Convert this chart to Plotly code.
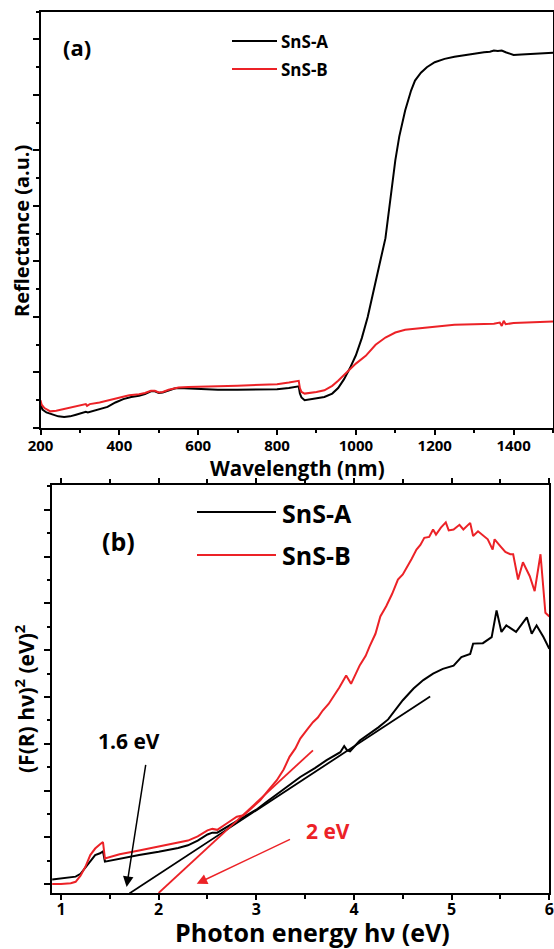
import plotly.graph_objects as go

# ---------------- Panel (a): reflectance ----------------
wl_a = [200, 205, 215, 230, 245, 260, 275, 290, 305, 315, 320, 330, 350, 370, 390, 410, 430, 450, 465,
        480, 490, 500, 510, 525, 540, 550, 575, 600, 650, 700, 750, 800, 830, 855, 858, 862, 870, 880,
        900, 920, 940, 955, 970, 985, 1000, 1015, 1030, 1045, 1060, 1075, 1090, 1100, 1110, 1125, 1140,
        1150, 1165, 1180, 1200, 1225, 1250, 1275, 1300, 1325, 1340, 1350, 1360, 1370, 1380, 1390, 1400,
        1420, 1440, 1460, 1480, 1500]
refl_a = [0.43, 0.33, 0.28, 0.24, 0.21, 0.20, 0.21, 0.24, 0.27, 0.29, 0.28, 0.30, 0.33, 0.38, 0.46, 0.52,
          0.56, 0.58, 0.61, 0.66, 0.66, 0.63, 0.64, 0.68, 0.71, 0.72, 0.71, 0.70, 0.69, 0.69, 0.69, 0.70,
          0.72, 0.75, 0.62, 0.55, 0.50, 0.51, 0.53, 0.56, 0.62, 0.72, 0.88, 1.08, 1.31, 1.62, 2.00, 2.45,
          2.95, 3.42, 4.30, 4.82, 5.25, 5.72, 6.08, 6.26, 6.40, 6.50, 6.59, 6.65, 6.69, 6.72, 6.75, 6.77,
          6.78, 6.80, 6.79, 6.80, 6.77, 6.75, 6.72, 6.73, 6.74, 6.74, 6.75, 6.76]

wl_b = [200, 203, 210, 225, 240, 260, 280, 300, 315, 318, 325, 350, 375, 400, 425, 450, 465, 480, 490,
        500, 510, 525, 540, 550, 575, 600, 650, 700, 750, 800, 830, 855, 858, 862, 870, 885, 900, 920,
        940, 955, 970, 985, 1000, 1025, 1050, 1075, 1100, 1125, 1150, 1200, 1250, 1300, 1350, 1365,
        1370, 1375, 1380, 1400, 1450, 1500]
refl_b = [0.50, 0.42, 0.36, 0.30, 0.31, 0.34, 0.37, 0.40, 0.43, 0.40, 0.43, 0.46, 0.50, 0.55, 0.59, 0.61,
          0.63, 0.67, 0.67, 0.64, 0.65, 0.69, 0.72, 0.73, 0.74, 0.74, 0.75, 0.76, 0.77, 0.79, 0.82, 0.85,
          0.72, 0.65, 0.62, 0.63, 0.65, 0.68, 0.76, 0.85, 0.95, 1.05, 1.16, 1.30, 1.50, 1.63, 1.72, 1.77,
          1.79, 1.83, 1.86, 1.87, 1.88, 1.90, 1.84, 1.93, 1.87, 1.89, 1.90, 1.92]

# ---------------- Panel (b): Tauc plot ----------------
e_a = [0.91, 1.0, 1.1, 1.15, 1.2, 1.25, 1.3, 1.35, 1.40, 1.43, 1.45, 1.5, 1.6, 1.8, 2.0, 2.2, 2.3, 2.4,
       2.5, 2.55, 2.6, 2.7, 2.8, 2.9, 3.0, 3.1, 3.2, 3.3, 3.45, 3.6, 3.72, 3.86, 3.9, 3.93, 3.96, 4.06,
       4.15, 4.25, 4.35, 4.42, 4.5, 4.61, 4.71, 4.81, 4.91, 5.02, 5.10, 5.19, 5.22, 5.32, 5.41, 5.46,
       5.51, 5.56, 5.66, 5.77, 5.82, 5.87, 5.94, 6.0]
tauc_a = [0.10, 0.12, 0.14, 0.16, 0.22, 0.35, 0.50, 0.62, 0.66, 0.70, 0.48, 0.50, 0.55, 0.62, 0.69, 0.77,
          0.83, 0.93, 1.06, 1.10, 1.10, 1.22, 1.35, 1.47, 1.59, 1.75, 1.90, 2.05, 2.29, 2.48, 2.65, 2.82,
          2.95, 2.86, 2.84, 3.07, 3.20, 3.35, 3.52, 3.70, 3.93, 4.18, 4.36, 4.50, 4.60, 4.67, 4.85, 4.92,
          5.14, 5.15, 5.28, 5.85, 5.39, 5.53, 5.39, 5.70, 5.35, 5.53, 5.28, 5.03]

e_b = [0.91, 1.0, 1.1, 1.15, 1.2, 1.25, 1.3, 1.35, 1.40, 1.43, 1.45, 1.5, 1.6, 1.8, 2.0, 2.2, 2.3, 2.4,
       2.5, 2.55, 2.6, 2.7, 2.8, 2.87, 2.95, 3.04, 3.12, 3.21, 3.28, 3.34, 3.4, 3.45, 3.52, 3.58, 3.63,
       3.68, 3.74, 3.79, 3.85, 3.92, 3.97, 4.06, 4.12, 4.16, 4.22, 4.27, 4.33, 4.39, 4.45, 4.5, 4.54,
       4.59, 4.64, 4.68, 4.72, 4.77, 4.81, 4.84, 4.89, 4.94, 4.97, 5.02, 5.08, 5.12, 5.19, 5.22, 5.27,
       5.32, 5.37, 5.42, 5.44, 5.5, 5.55, 5.6, 5.63, 5.68, 5.73, 5.8, 5.85, 5.91, 5.96, 6.0]
tauc_b = [0.0, 0.0, 0.02, 0.05, 0.18, 0.37, 0.62, 0.76, 0.85, 0.90, 0.55, 0.58, 0.64, 0.72, 0.80, 0.88,
          0.93, 1.02, 1.15, 1.18, 1.16, 1.30, 1.44, 1.47, 1.62, 1.79, 2.00, 2.22, 2.45, 2.72, 2.90, 3.11,
          3.30, 3.46, 3.56, 3.71, 3.85, 4.00, 4.20, 4.46, 4.28, 4.68, 4.88, 5.08, 5.35, 5.72, 5.94, 6.20,
          6.51, 6.62, 6.76, 6.95, 7.15, 7.25, 7.40, 7.42, 7.58, 7.47, 7.62, 7.73, 7.56, 7.58, 7.68, 7.58,
          7.72, 7.44, 7.54, 7.45, 7.37, 7.15, 7.37, 7.22, 7.10, 7.05, 7.05, 6.51, 6.88, 6.58, 6.26, 7.05,
          5.80, 5.72]

# tangent (extrapolation) lines
fit_a_x = [1.70, 4.78]
fit_a_y = [-0.20, 4.01]
fit_b_x = [2.00, 3.58]
fit_b_y = [-0.19, 2.86]

gap_a = "1.6 eV"
gap_b = "2 eV"

BLACK = "#000000"
RED = "#ec2227"
FONT = "Open Sans"

fig = go.Figure()
fig.add_trace(go.Scatter(x=wl_a, y=refl_a, mode="lines", name="SnS-A",
                         line=dict(color=BLACK, width=2), xaxis="x", yaxis="y", showlegend=False))
fig.add_trace(go.Scatter(x=wl_b, y=refl_b, mode="lines", name="SnS-B",
                         line=dict(color=RED, width=2), xaxis="x", yaxis="y", showlegend=False))
fig.add_trace(go.Scatter(x=e_a, y=tauc_a, mode="lines", name="SnS-A",
                         line=dict(color=BLACK, width=2), xaxis="x2", yaxis="y2", showlegend=False))
fig.add_trace(go.Scatter(x=e_b, y=tauc_b, mode="lines", name="SnS-B",
                         line=dict(color=RED, width=2), xaxis="x2", yaxis="y2", showlegend=False))
fig.add_trace(go.Scatter(x=fit_a_x, y=fit_a_y, mode="lines", line=dict(color=BLACK, width=1.8),
                         xaxis="x2", yaxis="y2", showlegend=False))
fig.add_trace(go.Scatter(x=fit_b_x, y=fit_b_y, mode="lines", line=dict(color=RED, width=1.8),
                         xaxis="x2", yaxis="y2", showlegend=False))

W, H = 554, 949
def px(x):
    return x / W
def py(y):
    return 1 - y / H

axis_common = dict(showgrid=False, zeroline=False, showline=True, linecolor=BLACK, linewidth=2,
                   ticks="outside", tickcolor=BLACK, tickwidth=1.5, automargin=False)

fig.update_layout(
    template="none",
    width=W, height=H, margin=dict(l=0, r=0, t=0, b=0, autoexpand=False),
    paper_bgcolor="white", plot_bgcolor="white",
    font=dict(family=FONT, color=BLACK, weight="bold"),
    xaxis=dict(**axis_common, domain=[px(40.5), px(553)], range=[200, 1500],
               tickvals=[200, 400, 600, 800, 1000, 1200, 1400], ticklen=5, mirror=True,
               ticklabelstandoff=-2,
               minor=dict(dtick=100, tick0=200, ticklen=3, ticks="outside", tickcolor=BLACK, tickwidth=1.5),
               tickfont=dict(size=15, family=FONT, weight="bold"), anchor="y"),
    yaxis=dict(**axis_common, domain=[py(428), py(11.7)], range=[0, 7.5], dtick=1, tick0=0,
               ticklen=6, mirror=True, showticklabels=False,
               minor=dict(dtick=0.5, tick0=0, ticklen=3, ticks="outside", tickcolor=BLACK, tickwidth=1.5),
               anchor="x"),
    xaxis2=dict(**axis_common, domain=[px(51.7), px(549.3)], range=[0.905, 6.0], dtick=1, tick0=0,
                ticklen=5, mirror="ticks", ticklabelstandoff=-4,
                minor=dict(dtick=0.5, tick0=0, ticklen=4, ticks="outside", tickcolor=BLACK, tickwidth=1.5),
                tickfont=dict(size=16, family=FONT, weight="bold"), anchor="y2"),
    yaxis2=dict(**axis_common, domain=[py(893), py(485)], range=[-0.19, 8.53], dtick=1, tick0=0,
                ticklen=6, mirror=True, showticklabels=False,
                minor=dict(dtick=0.5, tick0=0, ticklen=3, ticks="outside", tickcolor=BLACK, tickwidth=1.5),
                anchor="x2"),
)

ann = []
def text(x, y, s, size, color=BLACK, angle=0, xanchor="center"):
    ann.append(dict(x=px(x), y=py(y), xref="paper", yref="paper", text=s, showarrow=False,
                    font=dict(size=size, color=color, family=FONT, weight="bold"),
                    textangle=angle, xanchor=xanchor, yanchor="middle"))

# axis titles
text(297, 468, "Wavelength (nm)", 20.5)
text(21, 231, "Reflectance (a.u.)", 20, angle=-90)
text(312, 932, "Photon energy hν (eV)", 25)
text(24, 699, "(F(R) hν)<sup>2</sup> (eV)<sup>2</sup>", 21, angle=-90)

# panel labels
text(77, 47, "(a)", 22)
text(118, 541, "(b)", 25)

# legends (manual)
shapes = []
def legline(x0, x1, y, color):
    shapes.append(dict(type="line", xref="paper", yref="paper", x0=px(x0), x1=px(x1), y0=py(y), y1=py(y),
                       line=dict(color=color, width=2)))
legline(232, 277, 41, BLACK)
legline(232, 277, 69, RED)
text(279, 41, "SnS-A", 17, xanchor="left")
text(279, 69, "SnS-B", 17, xanchor="left")
legline(197, 276, 512, BLACK)
legline(197, 276, 555, RED)
text(280, 513, "SnS-A", 25, xanchor="left")
text(280, 555, "SnS-B", 25, xanchor="left")

# band gap arrows
ann.append(dict(x=1.672, y=-0.06, ax=1.87, ay=2.58, xref="x2", yref="y2", axref="x2", ayref="y2",
                text="", showarrow=True, arrowhead=2, arrowsize=1.4, arrowwidth=1.5, arrowcolor=BLACK))
ann.append(dict(x=2.39, y=0.01, ax=3.36, ay=0.97, xref="x2", yref="y2", axref="x2", ayref="y2",
                text="", showarrow=True, arrowhead=2, arrowsize=1.4, arrowwidth=1.5, arrowcolor=RED))
ann.append(dict(x=1.70, y=3.06, xref="x2", yref="y2", text=gap_a, showarrow=False,
                font=dict(size=21, color=BLACK, family=FONT, weight="bold")))
ann.append(dict(x=3.73, y=1.13, xref="x2", yref="y2", text=gap_b, showarrow=False,
                font=dict(size=21, color=RED, family=FONT, weight="bold")))

fig.update_layout(annotations=ann, shapes=shapes)
fig.write_html("out.html")
